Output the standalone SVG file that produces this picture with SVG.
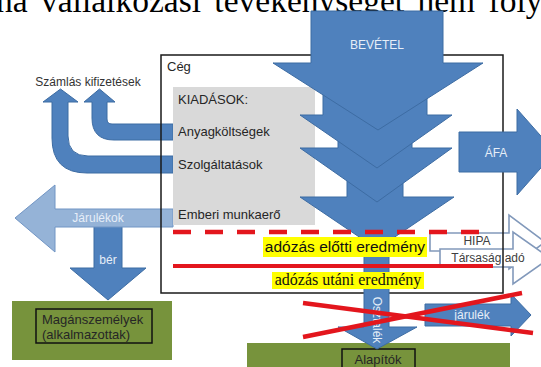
<svg xmlns="http://www.w3.org/2000/svg" width="541" height="367" viewBox="0 0 541 367">
<style>
.sans{font-family:"Liberation Sans",Arial,sans-serif}
.serif{font-family:"Liberation Serif","Times New Roman",serif}
.lbl{font-family:"Liberation Sans",Arial,sans-serif;font-size:13px;fill:#262626}
.wlbl{font-family:"Liberation Sans",Arial,sans-serif;font-size:12px;fill:#e6eef8;text-anchor:middle}
.blue{fill:#4f81bd;stroke:#3d6ca3;stroke-width:1}
.lblue{fill:#95b3d7;stroke:#7195c4;stroke-width:1}
.warrow{fill:#ffffff;stroke:#8299bb;stroke-width:1.6}
.green{fill:#77933c}
.inner{fill:#77933c;stroke:#111;stroke-width:1.5}
.red{stroke:#e3161d;fill:none}
.hl{fill:#ffff00}
</style>

<text class="serif" x="-4" y="12" font-size="33.5" word-spacing="5" fill="#000">na vállalkozási tevékenységet nem foly</text>

<g id="connectors">
  <path id="arrow-anyag" class="blue" d="M173,124 L112,124 Q107,124 107,119 L107,102 L115,102 L99.5,89 L84,102 L92,102 L92,118 Q92,140 114,140 L173,140 Z"/>
  <path id="arrow-szolg" class="blue" d="M173,156 L88,156 Q68,156 68,136 L68,102 L78,102 L60.5,89 L43,102 L52,102 L52,138 Q52,173 87,173 L173,173 Z"/>
  <polygon id="arrow-ber" class="blue" points="94,226 122,226 122,268 146,268 108,300 70,268 94,268"/>
  <polygon id="arrow-jarulekok" class="lblue" points="15,218 55,185 55,209 173,209 173,227 55,227 55,252"/>
  <polygon id="arrow-hipa" class="warrow" points="430,233 509,233 509,215 545,242 509,269 509,251 430,251"/>
  <polygon id="arrow-tarsasag" class="warrow" points="440,249 513,249 513,232 550,258 513,284 513,267 440,267"/>
</g>

<text class="wlbl" x="98" y="222">Járulékok</text>
<text class="wlbl" x="108" y="264">bér</text>
<text class="sans" x="477" y="245" font-size="12" fill="#404040" text-anchor="middle">HIPA</text>
<text class="sans" x="488" y="262" font-size="12" fill="#404040" text-anchor="middle">Társaság adó</text>

<g id="szamlas">
  <text class="sans" x="88" y="86" font-size="12" fill="#333" text-anchor="middle">Számlás kifizetések</text>
</g>

<g id="ceg">
  <rect x="161" y="55" width="342" height="238" fill="none" stroke="#1a1a1a" stroke-width="1.5"/>
  <text class="lbl" x="167" y="71">Cég</text>
</g>

<g id="kiadasok">
  <rect x="173" y="87" width="142" height="138" fill="#d9d9d9"/>
  <text class="lbl" x="178" y="104">KIADÁSOK:</text>
  <text class="lbl" x="178" y="136">Anyagköltségek</text>
  <text class="lbl" x="178" y="169">Szolgáltatások</text>
  <text class="lbl" x="178" y="219">Emberi munkaerő</text>
</g>

<g id="maganszemelyek">
  <rect class="green" x="12" y="301" width="160" height="59"/>
  <rect class="inner" x="36" y="309" width="116" height="34"/>
  <text class="lbl" x="42" y="324" fill="#1a1a1a">Magánszemélyek</text>
  <text class="lbl" x="42" y="339" fill="#1a1a1a">(alkalmazottak)</text>
</g>

<g id="alapitok">
  <rect class="green" x="247" y="343" width="263" height="30"/>
  <rect class="inner" x="342" y="349" width="73" height="24"/>
  <text class="lbl" x="378" y="364" fill="#1a1a1a" text-anchor="middle">Alapítók</text>
</g>

<g id="osztalek">
  <polygon class="blue" points="364,220 389,220 389,327 417,327 377,349 338,327 364,327"/>
  <text class="wlbl" transform="translate(373,320) rotate(90)">Osztalék</text>
</g>

<g id="bevetel">
  <polygon class="blue" points="347,165 403,165 403,197 454,197 377,249 300,197 347,197"/>
  <polygon class="blue" points="338,125 412,125 412,148 452,148 377,202 300,148 338,148"/>
  <polygon class="blue" points="323,70 427,70 427,115 452,115 377,168 300,115 323,115"/>
  <polygon class="blue" points="311,11 443,11 443,63 483,63 378,130 273,63 311,63"/>
  <text class="wlbl" x="377" y="49" font-size="11">BEVÉTEL</text>
</g>

<g id="afa">
  <polygon class="blue" points="459,132 517,132 517,109 555,152 517,195 517,172 459,172"/>
  <text class="wlbl" x="496" y="157" font-size="11">ÁFA</text>
</g>

<g id="eredmeny">
  <line class="red" x1="173" y1="232" x2="490" y2="232" stroke-width="4.5" stroke-dasharray="18 14"/>
  <line class="red" x1="173" y1="266" x2="493" y2="266" stroke-width="4"/>
  <rect class="hl" x="263" y="237" width="164" height="20"/>
  <text class="sans" x="345" y="252" font-size="15.5" fill="#111" text-anchor="middle">adózás előtti eredmény</text>
  <rect class="hl" x="272" y="272" width="152" height="17"/>
  <text class="serif" x="348" y="285" font-size="16" fill="#111" text-anchor="middle">adózás utáni eredmény</text>
</g>

<g id="jarulek">
  <polygon class="blue" points="425,304 511,304 511,294 531,315 511,336 511,326 425,326"/>
  <text class="wlbl" x="472" y="319" font-size="12.5">járulék</text>
</g>

<g id="cross">
  <line class="red" x1="303" y1="303" x2="533" y2="333" stroke-width="4.5"/>
  <line class="red" x1="303" y1="337" x2="522" y2="293" stroke-width="4.5"/>
</g>
</svg>
